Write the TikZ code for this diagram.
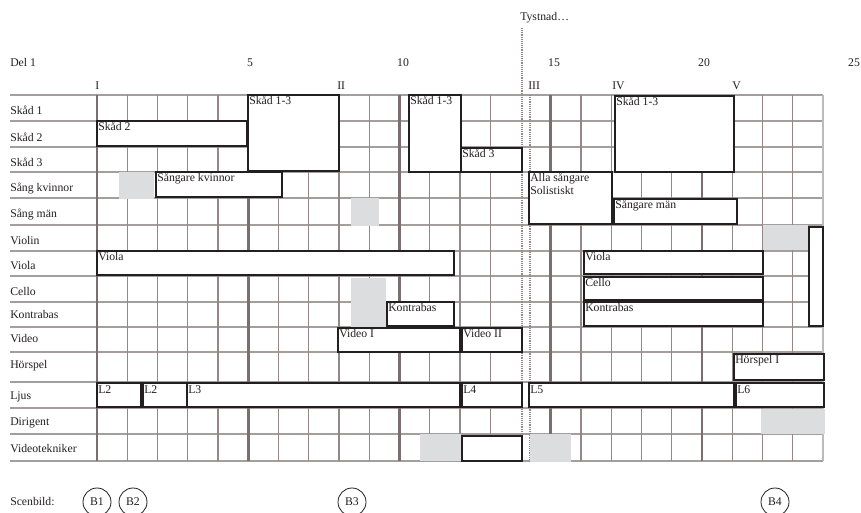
\documentclass[tikz,border=0pt]{standalone}
\usepackage{fontspec}
\setmainfont{Liberation Serif}
\usepackage{xcolor}
\definecolor{ink}{HTML}{231F20}
\definecolor{gridc}{HTML}{928888}
\definecolor{hgridc}{HTML}{A59E9E}
\definecolor{barc}{HTML}{7A6E6E}
\definecolor{edgec}{HTML}{BDBABA}
\definecolor{restc}{HTML}{DCDDDF}
\usetikzlibrary{positioning}

\begin{document}
\begin{tikzpicture}[x=0.75pt, y=-0.75pt,
    font=\fontsize{8.8}{10}\selectfont, text=ink,
    rowlbl/.style={anchor=base west, inner sep=0pt},
    cue/.style={draw=ink, line width=1.5pt, fill=white},
    cuelbl/.style={anchor=base west, inner sep=0pt},
    rest/.style={fill=restc},
    gridline/.style={draw=gridc, line width=0.8pt},
    barline/.style={draw=barc, line width=2.2pt},
    silence/.style={draw=gridc, line width=0.8pt, dash pattern=on 0.7pt off 0.7pt},
    scene/.style={circle, draw=ink, line width=0.6pt, minimum size=21pt, inner sep=0pt}]

  \useasboundingbox (0,0) rectangle (861,513);

  % header
  \node[rowlbl] (del) at (10,67) {Del 1};
  \foreach \n/\x in {5/250,10/403,15/554,20/704,25/854}
    \node[anchor=base, inner sep=0pt] (bar\n) at (\x,67) {\n};
  \node[rowlbl] (partI)   at (95,90)  {I};
  \node[rowlbl] (partII)  at (337,90) {II};
  \node[rowlbl] (partIII) at (528,90) {III};
  \node[rowlbl] (partIV)  at (612,90) {IV};
  \node[rowlbl] (partV)   at (732,90) {V};
  \node[rowlbl] (tyst)    at (520,21) {Tystnad…};

  % grid
  \foreach \y in {95,121,147,172,198,225,251,276,302,327,352,382,408,434,461}
    \draw[draw=hgridc, line width=0.8pt] (10,\y) -- (823,\y);
  \foreach \i in {1,2,3,4,6,7,8,9,11,12,13,16,17,18,19,21,22,23}
    \draw[gridline] (97+30.25*\i,95) -- (97+30.25*\i,461);
  \foreach \i in {0,5,10,15,20}
    \draw[barline] (97+30.25*\i,95) -- (97+30.25*\i,461);
  \draw[draw=edgec, line width=1.2pt] (823,95) -- (823,461);

  % rows
  \node[rowlbl] (r1)  at (10,115) {Skåd 1};
  \node[rowlbl] (r2)  at (10,142) {Skåd 2};
  \node[rowlbl] (r3)  at (10,167) {Skåd 3};
  \node[rowlbl] (r4)  at (10,192) {Sång kvinnor};
  \node[rowlbl] (r5)  at (10,218) {Sång män};
  \node[rowlbl] (r6)  at (10,245) {Violin};
  \node[rowlbl] (r7)  at (10,270) {Viola};
  \node[rowlbl] (r8)  at (10,296) {Cello};
  \node[rowlbl] (r9)  at (10,319) {Kontrabas};
  \node[rowlbl] (r10) at (10,343) {Video};
  \node[rowlbl] (r11) at (10,369) {Hörspel};
  \node[rowlbl] (r12) at (10,400) {Ljus};
  \node[rowlbl] (r13) at (10,426) {Dirigent};
  \node[rowlbl] (r14) at (10,453) {Videotekniker};

  % silence
  \draw[silence] (522,28) -- (522,461);
  \draw[silence] (530,95) -- (530,461);

  % pauses
  \fill[rest] (119,172) rectangle (154,199);
  \fill[rest] (351,198) rectangle (379,226);
  \fill[rest] (763,225) rectangle (808,250);
  \fill[rest] (351,278) rectangle (386,327);
  \fill[rest] (761,409) rectangle (825,434);
  \fill[rest] (420,434) rectangle (461,461);
  \fill[rest] (530,434) rectangle (571,462);

  % cues
  \draw[cue] (97,121) rectangle (247,146);
  \node[cuelbl] (skad2) at (98,131) {Skåd 2};
  \draw[cue] (248,95) rectangle (339,171);
  \node[cuelbl] (skadA) at (249,105) {Skåd 1-3};
  \draw[cue] (409,95) rectangle (461,172);
  \node[cuelbl] (skadB) at (410,105) {Skåd 1-3};
  \draw[cue] (461,148) rectangle (522,172);
  \node[cuelbl] (skad3) at (462,158) {Skåd 3};
  \draw[cue] (615,96) rectangle (734,172);
  \node[cuelbl] (skadC) at (616,106) {Skåd 1-3};

  \draw[cue] (156,172) rectangle (282,197);
  \node[cuelbl] (kvinnor) at (157,182) {Sångare kvinnor};
  \draw[cue] (529,172) rectangle (612,224);
  \node[cuelbl] (alla) at (530,182) {Alla sångare};
  \node[cuelbl] (solo) at (530,195) {Solistiskt};
  \draw[cue] (614,199) rectangle (737,224);
  \node[cuelbl] (man) at (615,209) {Sångare män};

  \draw[cue] (97,251) rectangle (454,275);
  \node[cuelbl] (violaA) at (98,261) {Viola};
  \draw[cue] (584,251) rectangle (763,274);
  \node[cuelbl] (violaB) at (585,261) {Viola};
  \draw[cue] (584,277) rectangle (763,300);
  \node[cuelbl] (cello) at (585,287) {Cello};
  \draw[cue] (387,302) rectangle (454,326);
  \node[cuelbl] (kbasA) at (388,312) {Kontrabas};
  \draw[cue] (584,302) rectangle (763,326);
  \node[cuelbl] (kbasB) at (585,312) {Kontrabas};
  \draw[cue] (809,227) rectangle (823,326);

  \draw[cue] (338,328) rectangle (460,352);
  \node[cuelbl] (videoA) at (339,338) {Video I};
  \draw[cue] (462,328) rectangle (522,352);
  \node[cuelbl] (videoB) at (463,338) {Video II};
  \draw[cue] (734,354) rectangle (824,380);
  \node[cuelbl] (horspel) at (735,364) {Hörspel I};

  \draw[cue] (97,383) rectangle (141,407);
  \node[cuelbl] (ljusA) at (98,393) {L2};
  \draw[cue] (143,383) rectangle (187,407);
  \node[cuelbl] (ljusB) at (144,393) {L2};
  \draw[cue] (187,383) rectangle (460,407);
  \node[cuelbl] (ljusC) at (188,393) {L3};
  \draw[cue] (462,383) rectangle (522,407);
  \node[cuelbl] (ljusD) at (463,393) {L4};
  \draw[cue] (529,383) rectangle (734,407);
  \node[cuelbl] (ljusE) at (530,393) {L5};
  \draw[cue] (736,383) rectangle (824,407);
  \node[cuelbl] (ljusF) at (737,393) {L6};

  \draw[cue] (462,436) rectangle (522,461);

  % scenbild
  \node[rowlbl] (scen) at (10,505) {Scenbild:};
  \node[scene] (b1) at (97,502)  {B1};
  \node[scene] (b2) at (133,502) {B2};
  \node[scene] (b3) at (352,502) {B3};
  \node[scene] (b4) at (775,502) {B4};

\end{tikzpicture}
\end{document}
